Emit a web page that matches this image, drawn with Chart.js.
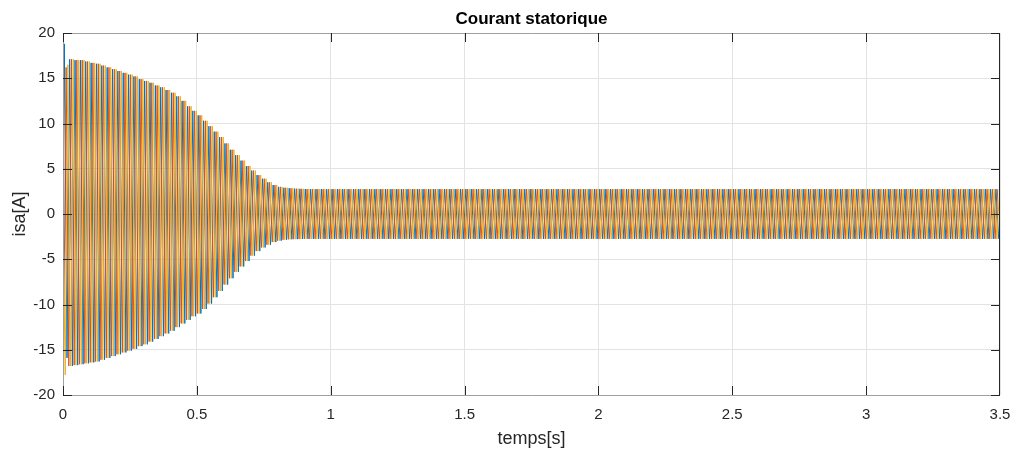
<!DOCTYPE html>
<html>
<head>
<meta charset="utf-8">
<script src="https://cdn.jsdelivr.net/npm/chart.js@4/dist/chart.umd.min.js"></script>
<style>
	html, body { margin: 0; padding: 0; background: #fff; }
	#wrap { width: 1016px; height: 457px; }
</style>
</head>
<body>
<div id="wrap"><canvas id="isa-chart"></canvas></div>
<script>
// peak envelope of the stator current, one value per 20 ms cycle from t = 0 to 0.9 s
const cycle = 0.02;
const peak_hi = [17.1, 17.1, 17.0, 17.0, 16.85, 16.7, 16.6, 16.4, 16.2, 16.0,
	15.8, 15.6, 15.4, 15.2, 14.9, 14.7, 14.5, 14.2, 14.0, 13.7,
	13.4, 13.0, 12.5, 11.9, 11.4, 10.9, 10.3, 9.7, 9.1, 8.5,
	7.8, 7.1, 6.5, 5.9, 5.3, 4.8, 4.3, 3.9, 3.5, 3.2,
	3.0, 2.9, 2.85, 2.8, 2.78, 2.76];
const peak_lo = [-16.8, -16.8, -16.7, -16.6, -16.5, -16.4, -16.3, -16.1, -15.9, -15.7,
	-15.5, -15.3, -15.1, -14.9, -14.6, -14.4, -14.1, -13.8, -13.5, -13.2,
	-12.9, -12.5, -12.1, -11.7, -11.3, -11.0, -10.5, -9.9, -9.2, -8.5,
	-7.8, -7.1, -6.4, -5.8, -5.2, -4.6, -4.1, -3.7, -3.4, -3.1,
	-2.95, -2.85, -2.8, -2.78, -2.76, -2.75];
const steady_amp = 2.75; // amplitude after ~0.9 s, up to 3.5 s
const t_end = 3.5;

// the three phases
const phase_names = ["isa", "isb", "isc"];
const phase_colors = ["#0072BD", "#D95319", "#EDB120"];
const phase_first_peak = [0.005, 0.0117, 0.0183]; // time of first positive peak (s)
const first_hi = [18.8, 16.2, 16.5];
const first_lo = [-15.9, -16.2, -17.8];

const x_ticks = [0, 0.5, 1, 1.5, 2, 2.5, 3, 3.5];
const y_ticks = [-20, -15, -10, -5, 0, 5, 10, 15, 20];

const font_family = "'Liberation Sans', Arial, Helvetica, sans-serif";
const axis_dark = "#262626";

function phase_points(p) {
	var pts = [{x: 0, y: 0}];
	for (let k = -1; ; k++) {
		var t = phase_first_peak[p] + k * cycle / 2;
		if (t < 0) continue;
		if (t > t_end) break;
		var idx = Math.floor(t / cycle);
		var y;
		if (k % 2 == 0) {
			y = idx == 0 ? first_hi[p] : (idx < peak_hi.length ? peak_hi[idx] : steady_amp);
		} else {
			y = idx == 0 ? first_lo[p] : (idx < peak_lo.length ? peak_lo[idx] : -steady_amp);
		}
		pts.push({x: t, y: y});
	}
	return pts;
}

const datasets = phase_names.map(function(name, p) {
	return {
		label: name,
		data: phase_points(p),
		borderColor: phase_colors[p],
		backgroundColor: phase_colors[p],
		borderWidth: 1,
		pointRadius: 0,
		tension: 0,
		order: 3 - p
	};
});

// matlab style box, inward ticks and title centred on the axes
const matlab_axes = {
	id: "matlab_axes",
	afterDatasetsDraw(chart) {
		const ctx = chart.ctx;
		const a = chart.chartArea;
		const xs = chart.scales.x, ys = chart.scales.y;
		const tl = 9;
		ctx.save();
		ctx.lineWidth = 1;
		ctx.strokeStyle = "#a0a0a0";
		ctx.beginPath();
		ctx.moveTo(a.left + 0.5, a.top + 0.5);
		ctx.lineTo(a.right, a.top + 0.5);
		ctx.moveTo(a.left + 0.5, a.top);
		ctx.lineTo(a.left + 0.5, a.bottom + 0.5);
		ctx.lineTo(a.right, a.bottom + 0.5);
		ctx.stroke();
		ctx.strokeStyle = axis_dark;
		ctx.beginPath();
		ctx.moveTo(a.right - 0.5, a.top);
		ctx.lineTo(a.right - 0.5, a.bottom + 1);
		for (const v of x_ticks) {
			var px = Math.round(xs.getPixelForValue(v)) + 0.5;
			if (v == 3.5) px -= 1;
			ctx.moveTo(px, a.bottom);
			ctx.lineTo(px, a.bottom - tl);
			ctx.moveTo(px, a.top);
			ctx.lineTo(px, a.top + tl);
		}
		for (const v of y_ticks) {
			var py = Math.round(ys.getPixelForValue(v)) + 0.5;
			ctx.moveTo(a.left, py);
			ctx.lineTo(a.left + tl, py);
			ctx.moveTo(a.right, py);
			ctx.lineTo(a.right - tl, py);
		}
		ctx.stroke();
		ctx.fillStyle = "#000";
		ctx.font = "bold 17px " + font_family;
		ctx.textAlign = "center";
		ctx.textBaseline = "middle";
		ctx.fillText("Courant statorique", (a.left + a.right) / 2, 19);
		ctx.restore();
	}
};

const isa_ctx = document.getElementById("isa-chart");
const isa_chart = new Chart(isa_ctx, {
	type: "line",
	data: {datasets: datasets},
	options: {
		animation: false,
		responsive: true,
		maintainAspectRatio: false,
		parsing: false,
		normalized: true,
		layout: {padding: {top: 33, right: 16, bottom: 0, left: 0}},
		plugins: {
			legend: {display: false},
			tooltip: {enabled: false}
		},
		scales: {
			x: {
				type: "linear",
				min: 0,
				max: 3.5,
				afterBuildTicks: function(s) { s.ticks = x_ticks.map(v => ({value: v})); },
				afterFit: function(s) { s.height = 62; s.paddingLeft = 0; s.paddingRight = 0; },
				grid: {color: "#e3e3e3", drawTicks: false},
				border: {display: false},
				ticks: {color: axis_dark, padding: 11, maxRotation: 0, font: {size: 15, family: font_family},
					callback: v => String(v)},
				title: {display: true, text: "temps[s]", color: axis_dark, padding: {top: 0, bottom: 7}, font: {size: 18, family: font_family}}
			},
			y: {
				min: -20,
				max: 20,
				afterBuildTicks: function(s) { s.ticks = y_ticks.map(v => ({value: v})); },
				afterFit: function(s) { s.width = 63; s.paddingTop = 0; s.paddingBottom = 0; },
				grid: {color: "#e3e3e3", drawTicks: false},
				border: {display: false},
				ticks: {color: axis_dark, padding: 8, font: {size: 15, family: font_family},
					callback: v => String(v)},
				title: {display: true, text: "isa[A]", color: axis_dark, padding: {top: 9, bottom: 0}, font: {size: 18, family: font_family}}
			}
		}
	},
	plugins: [matlab_axes]
});
</script>
</body>
</html>
